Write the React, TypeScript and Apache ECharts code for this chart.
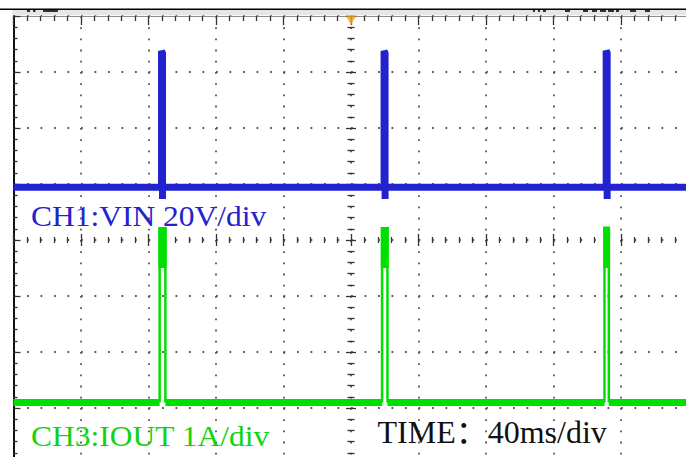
import React, { useEffect, useRef } from "react";
import * as echarts from "echarts";

// ---- scope settings ----
const MS_PER_DIV = 40; // TIME: 40ms/div
const X_MIN = -200; // ms (trigger at 0, 5 div each side)
const X_MAX = 200;
const Y_MIN = -4; // vertical divisions
const Y_MAX = 4;

// ---- CH1 (VIN, 20V/div) in divisions ----
const vinBaselineDiv = 0.94;
const vinSpikeTimesMs = [-112.0, 19.9, 151.5];
const vinSpikeTopLeftDiv = [3.375, 3.375, 3.38];
const vinSpikeTopRightDiv = [3.335, 3.335, 3.34];
const vinSpikeLowDiv = [0.73, 0.73, 0.73];

// ---- CH3 (IOUT, 1A/div) in divisions ----
const ioutBaselineDiv = -2.9;
const ioutPulseStartMs = [-113.4, 18.4, 150.2];
const ioutPulseEndMs = [-110.0, 21.6, 152.8];
const ioutPulseTopDiv = [0.21, 0.21, 0.215];
const ioutBandBottomDiv = [-0.5, -0.5, -0.5];

// ---- trigger marker ----
const triggerTimeMs = [0];

// ---- texts ----
const ch1Label = "CH1:VIN 20V/div";
const ch3Label = "CH3:IOUT 1A/div";
const timeLabel = "TIME：40ms/div";

const BLUE = "#2222cf";
const GREEN = "#00e000";
const DOT = "#555";
const TICK = "#333";

function buildVin(): (number | null)[][] {
  const d: (number | null)[][] = [[X_MIN, vinBaselineDiv]];
  vinSpikeTimesMs.forEach((t, i) => {
    d.push([t - 0.3, vinBaselineDiv]);
    d.push([t - 0.3, vinSpikeTopLeftDiv[i]]);
    d.push([t + 0.3, vinSpikeTopRightDiv[i]]);
    d.push([t + 0.3, vinSpikeLowDiv[i]]);
    d.push([t + 0.3, vinBaselineDiv]);
  });
  d.push([X_MAX, vinBaselineDiv]);
  return d;
}

function buildIoutBase(): (number | null)[][] {
  const d: (number | null)[][] = [[X_MIN, ioutBaselineDiv]];
  ioutPulseStartMs.forEach((s, i) => {
    const e = ioutPulseEndMs[i];
    d.push([s, ioutBaselineDiv]);
    d.push([(s + e) / 2, null]);
    d.push([e, ioutBaselineDiv]);
  });
  d.push([X_MAX, ioutBaselineDiv]);
  return d;
}

function buildIoutEdges(): (number | null)[][] {
  const d: (number | null)[][] = [];
  ioutPulseStartMs.forEach((s, i) => {
    const e = ioutPulseEndMs[i];
    d.push([s, ioutBaselineDiv]);
    d.push([s, ioutPulseTopDiv[i]]);
    d.push([e, ioutPulseTopDiv[i]]);
    d.push([e, ioutBaselineDiv]);
    d.push([e + 1, null]);
  });
  return d;
}

const bandData = ioutPulseStartMs.map((s, i) => [s, ioutPulseEndMs[i], ioutPulseTopDiv[i], ioutBandBottomDiv[i]]);

const xBase = {
  type: "value" as const,
  min: X_MIN,
  max: X_MAX,
  interval: MS_PER_DIV,
  axisLabel: { show: false },
  splitLine: { show: false },
};
const yBase = {
  type: "value" as const,
  min: Y_MIN,
  max: Y_MAX,
  interval: 1,
  axisLabel: { show: false },
  splitLine: { show: false },
};

const headerMarks = [
  [27, 3], [33, 2.5], [43, 15], [533, 2], [538, 2], [543, 3], [565, 5], [583, 5], [592, 5], [600, 6], [608, 6], [616, 3], [630, 6], [645, 5],
];

export default function App() {
  const ref = useRef<HTMLDivElement>(null);
  useEffect(() => {
    document.body.style.margin = "0";
    document.body.style.background = "#fff";
    if (!ref.current) return;
    const chart = echarts.init(ref.current, undefined, { renderer: "svg" });
    const tickStyle = { color: TICK, width: 1.3 };
    chart.setOption({
      animation: false,
      backgroundColor: "#fff",
      grid: { left: 13.5, top: 16, width: 675, height: 448, containLabel: false, outerBoundsMode: "none" },
      xAxis: [
        {
          ...xBase,
          position: "top",
          axisLine: { show: true, onZero: false, lineStyle: { color: "#8c8c8c", width: 1 } },
          axisTick: { show: true, inside: true, length: 9, lineStyle: tickStyle },
          minorTick: { show: true, splitNumber: 5, length: 5, lineStyle: tickStyle },
          splitLine: { show: true, lineStyle: { color: DOT, width: 1.8, type: [1.8, 9.4] } },
        },
        {
          ...xBase,
          position: "bottom",
          axisLine: { show: false, onZero: true, onZeroAxisIndex: 0 },
          axisTick: { show: true, inside: false, length: 6, lineStyle: tickStyle },
          minorTick: { show: true, splitNumber: 5, length: 3, lineStyle: tickStyle },
        },
        {
          ...xBase,
          position: "bottom",
          axisLine: { show: false, onZero: true, onZeroAxisIndex: 0 },
          axisTick: { show: true, inside: true, length: 6, lineStyle: tickStyle },
          minorTick: { show: true, splitNumber: 5, length: 3, lineStyle: tickStyle },
        },
      ],
      yAxis: [
        {
          ...yBase,
          position: "left",
          axisLine: { show: true, onZero: false, lineStyle: { color: "#111", width: 2 } },
          axisTick: { show: true, inside: true, length: 7, lineStyle: tickStyle },
          minorTick: { show: true, splitNumber: 5, length: 4, lineStyle: tickStyle },
          splitLine: { show: true, lineStyle: { color: DOT, width: 1.8, type: [1.8, 11.7] } },
        },
        {
          ...yBase,
          position: "left",
          axisLine: { show: false, onZero: true, onZeroAxisIndex: 0 },
          axisTick: { show: true, inside: false, length: 5, lineStyle: tickStyle },
          minorTick: { show: true, splitNumber: 5, length: 3.5, lineStyle: tickStyle },
        },
        {
          ...yBase,
          position: "left",
          axisLine: { show: false, onZero: true, onZeroAxisIndex: 0 },
          axisTick: { show: true, inside: true, length: 5, lineStyle: tickStyle },
          minorTick: { show: true, splitNumber: 5, length: 3.5, lineStyle: tickStyle },
        },
      ],
      series: [
        {
          name: "VIN",
          type: "line",
          data: buildVin(),
          showSymbol: false,
          symbol: "none",
          clip: false,
          lineStyle: { color: BLUE, width: 7, join: "miter", miterLimit: 10, cap: "butt" },
          z: 5,
        },
        {
          name: "IOUT base",
          type: "line",
          data: buildIoutBase(),
          symbol: "none",
          connectNulls: false,
          lineStyle: { color: GREEN, width: 7, cap: "butt" },
          z: 5,
        },
        {
          name: "IOUT pulse",
          type: "line",
          data: buildIoutEdges(),
          symbol: "none",
          connectNulls: false,
          lineStyle: { color: GREEN, width: 2.5, join: "miter", cap: "butt" },
          z: 6,
        },
        {
          name: "IOUT band",
          type: "custom",
          data: bandData,
          z: 6,
          renderItem: (_p: any, api: any) => {
            const a = api.coord([api.value(0), api.value(2)]);
            const b = api.coord([api.value(1), api.value(3)]);
            return {
              type: "rect",
              shape: { x: a[0] - 1.25, y: a[1] - 1.25, width: b[0] - a[0] + 2.5, height: b[1] - a[1] + 1.25 },
              style: { fill: GREEN },
            };
          },
        },
        {
          name: "trigger",
          type: "scatter",
          data: triggerTimeMs.map((t) => [t, Y_MAX]),
          symbol: "triangle",
          symbolRotate: 180,
          symbolSize: [11, 10],
          symbolOffset: [0, 4],
          clip: false,
          itemStyle: { color: "#f2a21c" },
          z: 10,
        },
      ],
      graphic: [
        { type: "rect", z: 50, shape: { x: 0, y: 8.5, width: 686, height: 1.6 }, style: { fill: "#000" } },
        { type: "rect", z: 50, shape: { x: 12.5, y: 10.1, width: 674, height: 5.2 }, style: { fill: "#e6e6e6" } },
        ...headerMarks.map(([x, w]) => ({
          type: "rect",
          z: 51,
          shape: { x, y: 10, width: w, height: 2 },
          style: { fill: "#333" },
        })),
        {
          type: "text",
          z: 100,
          x: 31,
          y: 216,
          scaleX: 1.05,
          style: {
            text: ch1Label,
            fontSize: 30,
            fontFamily: '"Liberation Serif", "Times New Roman", serif',
            fill: BLUE,
            align: "left",
            verticalAlign: "middle",
            textAlign: "left",
            textVerticalAlign: "middle",
          },
        },
        {
          type: "text",
          z: 100,
          x: 31,
          y: 436,
          scaleX: 1.05,
          style: {
            text: ch3Label,
            fontSize: 30,
            fontFamily: '"Liberation Serif", "Times New Roman", serif',
            fill: "#10d410",
            align: "left",
            verticalAlign: "middle",
            textAlign: "left",
            textVerticalAlign: "middle",
          },
        },
        {
          type: "text",
          z: 100,
          x: 377.5,
          y: 432,
          style: {
            text: timeLabel,
            fontSize: 32,
            fontFamily: '"Liberation Serif", "Noto Sans CJK SC", serif',
            fill: "#111",
            align: "left",
            verticalAlign: "middle",
            textAlign: "left",
            textVerticalAlign: "middle",
          },
        },
      ],
    } as any);
    return () => chart.dispose();
  }, []);
  return <div ref={ref} style={{ width: 686, height: 457, background: "#fff" }} />;
}
